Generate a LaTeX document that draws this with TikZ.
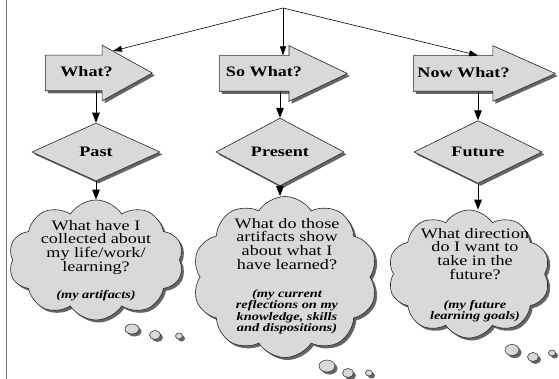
\documentclass[tikz,border=0pt]{standalone}
\usepackage{fontspec}
\setmainfont{Liberation Serif}[FakeStretch=1.25]
\usetikzlibrary{arrows.meta,calc,shadows,shapes.arrows,shapes.geometric,shapes.symbols}
\tikzset{
	shadowed/.style={drop shadow={shadow xshift=2.5pt,shadow yshift=-2.5pt,fill=black!60,opacity=1}},
	boxfill/.style={draw=black!85,line width=0.6pt,fill=black!15,shadowed},
	blockarrow/.style={boxfill,single arrow,inner xsep=0pt,inner ysep=17.5pt,single arrow head extend=10pt,anchor=tail},
	arrowtext/.style={font=\fontsize{14.5}{16}\selectfont\bfseries},
	decision/.style={boxfill,diamond,inner sep=0pt,minimum width=128pt,minimum height=58pt,font=\fontsize{14.5}{16}\selectfont\bfseries},
	thought/.style={boxfill,cloud,cloud puffs=10,cloud puff arc=115,cloud ignores aspect,inner sep=0pt},
	thoughttext/.style={anchor=north,align=center,inner sep=0pt,font=\fontsize{14.5}{13.6}\selectfont},
	notetext/.style={anchor=north,align=center,inner sep=0pt,font=\fontsize{11.5}{11.5}\selectfont\bfseries\itshape},
	bubble/.style={boxfill,line width=0.5pt},
	fork/.style={line width=0.6pt,-{Triangle[length=9pt,width=6pt]}},
	flow/.style={line width=1pt,-{Triangle[length=10pt,width=7.5pt]}}
}
\begin{document}
\begin{tikzpicture}[x=1pt,y=-1pt]
		\useasboundingbox (0,0) rectangle (559,379);
		\draw[black!55,line width=1pt] (6,0) -- (6,379);
		
		\node[blockarrow,minimum height=107pt,single arrow tip angle=58] (whatarrow) at (45,73) {};
		\node[blockarrow,minimum height=128pt,single arrow tip angle=51] (sowhatarrow) at (219,73.5) {};
		\node[blockarrow,minimum height=142pt,single arrow tip angle=48] (nowwhatarrow) at (413,73.5) {};
		\node[arrowtext] (whatlbl) at (86.5,72) {What?};
		\node[arrowtext] (sowhatlbl) at (264,72) {So What?};
		\node[arrowtext] (nowwhatlbl) at (463.5,73) {Now What?};
		
		\node[decision] (pastdia) at (96,152) {Past};
		\node[decision] (presdia) at (280,152) {Present};
		\node[decision] (futdia) at (478,152) {Future};
		
		\node[thought,minimum width=175pt,minimum height=120pt] (pastcloud) at (96,260) {};
		\node[thought,minimum width=185pt,minimum height=161pt] (prescloud) at (285,277) {};
		\node[thought,minimum width=162pt,minimum height=128pt] (futcloud) at (469,274) {};
		
		\node[thoughttext] (pasttxt) at (96,220) {What have I\\collected about\\my life/work/\\learning?};
		\node[notetext] (pastnote) at (96,290) {(my artifacts)};
		\node[thoughttext] (prestxt) at (287,218) {What do those\\artifacts show\\about what I\\have learned?};
		\node[notetext] (presnote) at (287,289) {(my current\\reflections on my\\knowledge, skills\\and dispositions)};
		\node[thoughttext] (futtxt) at (475,228) {What direction\\do I want to\\take in the\\future?};
		\node[notetext] (futnote) at (475,300) {(my future\\learning goals)};
		
		\foreach \x/\y/\rx/\ry in {132/329/7/5, 155/335/5.5/4.5, 179/336/3.5/3,
				327/366/8/6, 348/373/5.5/4.5, 369/373/3.5/3,
				512/350/7/5.5, 533/357/5.5/4.5, 552/353/3.5/3}
			\draw[bubble] (\x,\y) ellipse [x radius=\rx pt,y radius=\ry pt];
		
		\coordinate (apex) at (283,8);
		\draw[fork] (apex) -- ($(whatarrow.tip)+(-40,-22)$);
		\draw[fork] (apex) -- (apex |- sowhatarrow.after tail);
		\draw[fork] (apex) -- (futdia.north |- nowwhatarrow.after tail);
		
		\draw[flow] (pastdia.north |- whatarrow.before tail) -- (pastdia.north);
		\draw[flow] (presdia.north |- sowhatarrow.before tail) -- (presdia.north);
		\draw[flow] (futdia.north |- nowwhatarrow.before tail) -- (futdia.north);
		
		\draw[flow] (pastdia.south) -- (pastdia.south |- pastcloud.north);
		\draw[flow] (presdia.south) -- (presdia.south |- prescloud.north);
		\draw[flow] (futdia.south) -- (futdia.south |- futcloud.north);
		
\end{tikzpicture}
\end{document}
